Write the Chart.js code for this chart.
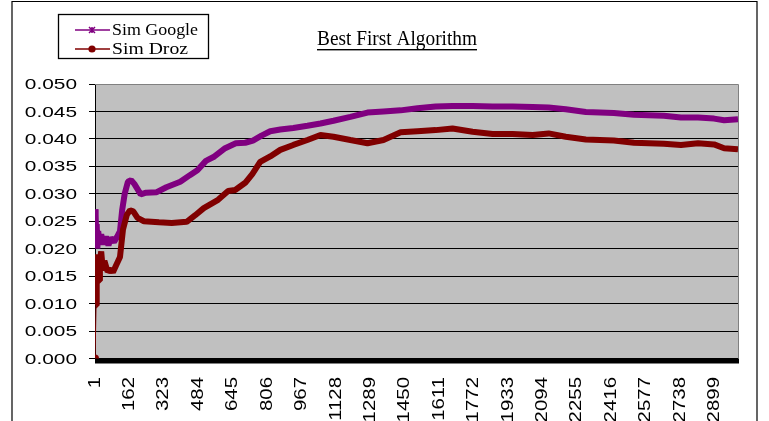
<!DOCTYPE html>
<html>
<head>
<meta charset="utf-8">
<script src="https://cdn.jsdelivr.net/npm/chart.js@4.4.1/dist/chart.umd.min.js"></script>
<style>
  html, body { margin: 0; padding: 0; background: #fff; overflow: hidden; }
  canvas { display: block; }
</style>
</head>
<body>
<canvas id="c" width="769" height="421"></canvas>
<script>
// Chart text
const chartTitle = 'Best First Algorithm';
const seriesNames = ['Sim Google', 'Sim Droz'];

// Axis ticks
const xTickLabels = [1, 162, 323, 484, 645, 806, 967, 1128, 1289, 1450, 1611, 1772, 1933, 2094, 2255, 2416, 2577, 2738, 2899];
const yTickLabels = [0, 0.005, 0.010, 0.015, 0.020, 0.025, 0.030, 0.035, 0.040, 0.045, 0.050];
const xLast = 3010;

// Sim Google: iteration index and similarity
const googleIdx = [1, 3, 5, 7, 9, 12, 16, 22, 30, 40, 52, 64, 75, 90, 105, 118, 128, 140, 155, 170, 185, 215, 240, 290, 335, 400, 445, 480, 520, 560, 610, 660, 704, 740, 780, 821, 868, 929, 995, 1056, 1117, 1196, 1276, 1351, 1431, 1510, 1595, 1674, 1768, 1862, 1955, 2049, 2124, 2204, 2298, 2429, 2523, 2663, 2743, 2823, 2898, 2945, 3010];
const googleVal = [0.0272, 0.0205, 0.0262, 0.0215, 0.0245, 0.0200, 0.0232, 0.0212, 0.0226, 0.0208, 0.0222, 0.0206, 0.0220, 0.0212, 0.0222, 0.0232, 0.0270, 0.0300, 0.0322, 0.0325, 0.0318, 0.0299, 0.0302, 0.0303, 0.0312, 0.0322, 0.0334, 0.0343, 0.0360, 0.0368, 0.0383, 0.0392, 0.0393, 0.0397, 0.0406, 0.0414, 0.0417, 0.0420, 0.0424, 0.0428, 0.0433, 0.0440, 0.0448, 0.0450, 0.0452, 0.0456, 0.0459, 0.0460, 0.0460, 0.0459, 0.0459, 0.0458, 0.0457, 0.0454, 0.0449, 0.0447, 0.0444, 0.0442, 0.0439, 0.0439, 0.0437, 0.0434, 0.0436];

// Sim Droz: iteration index and similarity
const drozIdx = [1, 6, 8, 10, 12, 16, 20, 24, 30, 38, 45, 60, 75, 85, 100, 118, 132, 150, 165, 180, 200, 230, 300, 360, 430, 470, 510, 577, 624, 657, 704, 737, 774, 821, 868, 929, 995, 1056, 1117, 1196, 1276, 1351, 1431, 1510, 1595, 1674, 1768, 1862, 1955, 2049, 2124, 2204, 2298, 2429, 2523, 2663, 2743, 2823, 2898, 2945, 3010];
const drozVal = [0.0000, 0.0097, 0.0135, 0.0190, 0.0150, 0.0185, 0.0142, 0.0175, 0.0195, 0.0160, 0.0178, 0.0158, 0.0163, 0.0157, 0.0170, 0.0185, 0.0235, 0.0262, 0.0270, 0.0268, 0.0256, 0.0250, 0.0248, 0.0247, 0.0249, 0.0261, 0.0274, 0.0289, 0.0305, 0.0307, 0.0320, 0.0336, 0.0358, 0.0368, 0.0380, 0.0389, 0.0398, 0.0407, 0.0404, 0.0398, 0.0392, 0.0398, 0.0412, 0.0414, 0.0416, 0.0419, 0.0413, 0.0409, 0.0409, 0.0407, 0.0410, 0.0404, 0.0399, 0.0397, 0.0393, 0.0391, 0.0389, 0.0392, 0.0390, 0.0383, 0.0381];

const googleColor = '#800080';
const drozColor = '#800000';

function toPoints(xs, ys) { return xs.map((x, i) => ({ x: x, y: ys[i] })); }

// Text drawn with a horizontal stretch factor
function stretchedText(ctx, text, x, y, font, stretch, align, baseline) {
  ctx.save();
  ctx.font = font;
  ctx.textAlign = align;
  ctx.textBaseline = baseline;
  ctx.translate(x, y);
  ctx.scale(stretch, 1);
  ctx.fillText(text, 0, 0);
  ctx.restore();
}

const plotFrame = {
  id: 'plotFrame',
  beforeDraw(chart) {
    const { ctx, chartArea: a } = chart;
    ctx.save();
    ctx.fillStyle = '#ffffff';
    ctx.fillRect(0, 0, chart.width, chart.height);
    ctx.fillStyle = '#c0c0c0';
    ctx.fillRect(a.left, a.top, a.right - a.left, a.bottom - a.top);
    ctx.restore();
  },
  beforeDatasetsDraw(chart) {
    const { ctx, chartArea: a } = chart;
    ctx.save();
    ctx.strokeStyle = '#808080';
    ctx.lineWidth = 1;
    ctx.beginPath();
    ctx.moveTo(a.left, Math.round(a.top) + 0.5);
    ctx.lineTo(Math.round(a.right) + 0.5, Math.round(a.top) + 0.5);
    ctx.lineTo(Math.round(a.right) + 0.5, a.bottom);
    ctx.stroke();
    // heavy category axis line
    ctx.fillStyle = '#000000';
    ctx.fillRect(a.left, a.bottom, a.right - a.left + 1, 5);
    ctx.restore();
  },
  afterDraw(chart) {
    const { ctx } = chart;
    const xs = chart.scales.x, ys = chart.scales.y;
    ctx.save();
    ctx.fillStyle = '#000000';
    // value axis labels
    ys.ticks.forEach(t => {
      const py = ys.getPixelForValue(t.value);
      stretchedText(ctx, t.value.toFixed(3), 77, py + 1, '15px "Liberation Sans", Arial, sans-serif', 1.39, 'right', 'middle');
    });
    // category labels, rotated
    xs.ticks.forEach(t => {
      const px = xs.getPixelForValue(t.value);
      ctx.save();
      ctx.translate(px, 377);
      ctx.rotate(-Math.PI / 2);
      stretchedText(ctx, String(t.value), 0, 0, '17px "Liberation Sans", Arial, sans-serif', 1.2, 'right', 'middle');
      ctx.restore();
    });
    // title with underline
    ctx.font = '21px "Liberation Serif", "Times New Roman", serif';
    const tw = ctx.measureText(chartTitle).width;
    const tLeft = 317, tWidth = 160;
    stretchedText(ctx, chartTitle, tLeft, 45, ctx.font, tWidth / tw, 'left', 'alphabetic');
    ctx.fillRect(tLeft, 49, tWidth, 1.4);

    // legend box
    ctx.strokeStyle = '#000000';
    ctx.lineWidth = 1.3;
    ctx.strokeRect(58.5, 14.5, 150, 44);
    const ds = chart.data.datasets;
    const rows = [30, 49];
    const widths = [86, 76];
    ds.forEach((d, i) => {
      const y = rows[i];
      ctx.strokeStyle = d.borderColor;
      ctx.lineWidth = 1.5;
      ctx.beginPath();
      ctx.moveTo(75, y);
      ctx.lineTo(110, y);
      ctx.stroke();
      if (i === 0) {
        ctx.lineWidth = 1.5;
        ctx.beginPath();
        ctx.moveTo(89, y - 3); ctx.lineTo(95, y + 3);
        ctx.moveTo(95, y - 3); ctx.lineTo(89, y + 3);
        ctx.moveTo(92, y - 3); ctx.lineTo(92, y + 3);
        ctx.stroke();
      } else {
        ctx.fillStyle = d.borderColor;
        ctx.beginPath();
        ctx.arc(92, y, 3.6, 0, Math.PI * 2);
        ctx.fill();
      }
      ctx.fillStyle = '#000000';
      const f = '17px "Liberation Serif", "Times New Roman", serif';
      ctx.font = f;
      const w = ctx.measureText(d.label).width;
      stretchedText(ctx, d.label, 112, y + 5, f, widths[i] / w, 'left', 'alphabetic');
    });

    // outer frame
    ctx.strokeStyle = '#000000';
    ctx.lineWidth = 1.2;
    ctx.beginPath();
    ctx.moveTo(12, 425);
    ctx.lineTo(12, 1.5);
    ctx.lineTo(757, 1.5);
    ctx.lineTo(757, 425);
    ctx.stroke();
    ctx.restore();
  }
};

new Chart(document.getElementById('c'), {
  type: 'line',
  data: {
    datasets: [
      {
        label: seriesNames[0],
        data: toPoints(googleIdx, googleVal),
        borderColor: googleColor,
        backgroundColor: googleColor,
        borderWidth: 6,
        pointRadius: 0,
        tension: 0,
        borderJoinStyle: 'bevel',
        order: 1
      },
      {
        label: seriesNames[1],
        data: toPoints(drozIdx, drozVal),
        borderColor: drozColor,
        backgroundColor: drozColor,
        borderWidth: 6,
        pointRadius: ctx => ctx.dataIndex === 0 ? 4 : 0,
        pointBackgroundColor: drozColor,
        pointBorderWidth: 0,
        tension: 0,
        borderJoinStyle: 'bevel',
        segment: { borderWidth: ctx => ctx.p0DataIndex === 0 ? 1 : undefined },
        order: 0
      }
    ]
  },
  options: {
    responsive: false,
    devicePixelRatio: 1,
    animation: false,
    layout: { padding: { left: 0, right: 31, top: 84, bottom: 0 } },
    plugins: { legend: { display: false }, title: { display: false }, tooltip: { enabled: false } },
    scales: {
      x: {
        type: 'linear',
        min: 1,
        max: xLast,
        afterBuildTicks: scale => { scale.ticks = xTickLabels.map(v => ({ value: v })); },
        afterFit: scale => { scale.height = 62.5; },
        grid: { display: false },
        border: { display: false },
        ticks: { display: false }
      },
      y: {
        type: 'linear',
        min: 0,
        max: 0.05,
        afterBuildTicks: scale => { scale.ticks = yTickLabels.map(v => ({ value: v })); },
        afterFit: scale => { scale.width = 95; },
        grid: {
          color: ctx => (ctx.tick && ctx.tick.value >= 0.05) ? '#808080' : '#000000',
          tickColor: '#000000',
          tickLength: 6,
          lineWidth: 1
        },
        border: { display: true, color: '#000000', width: 1 },
        ticks: { display: false }
      }
    }
  },
  plugins: [plotFrame]
});
</script>
</body>
</html>
